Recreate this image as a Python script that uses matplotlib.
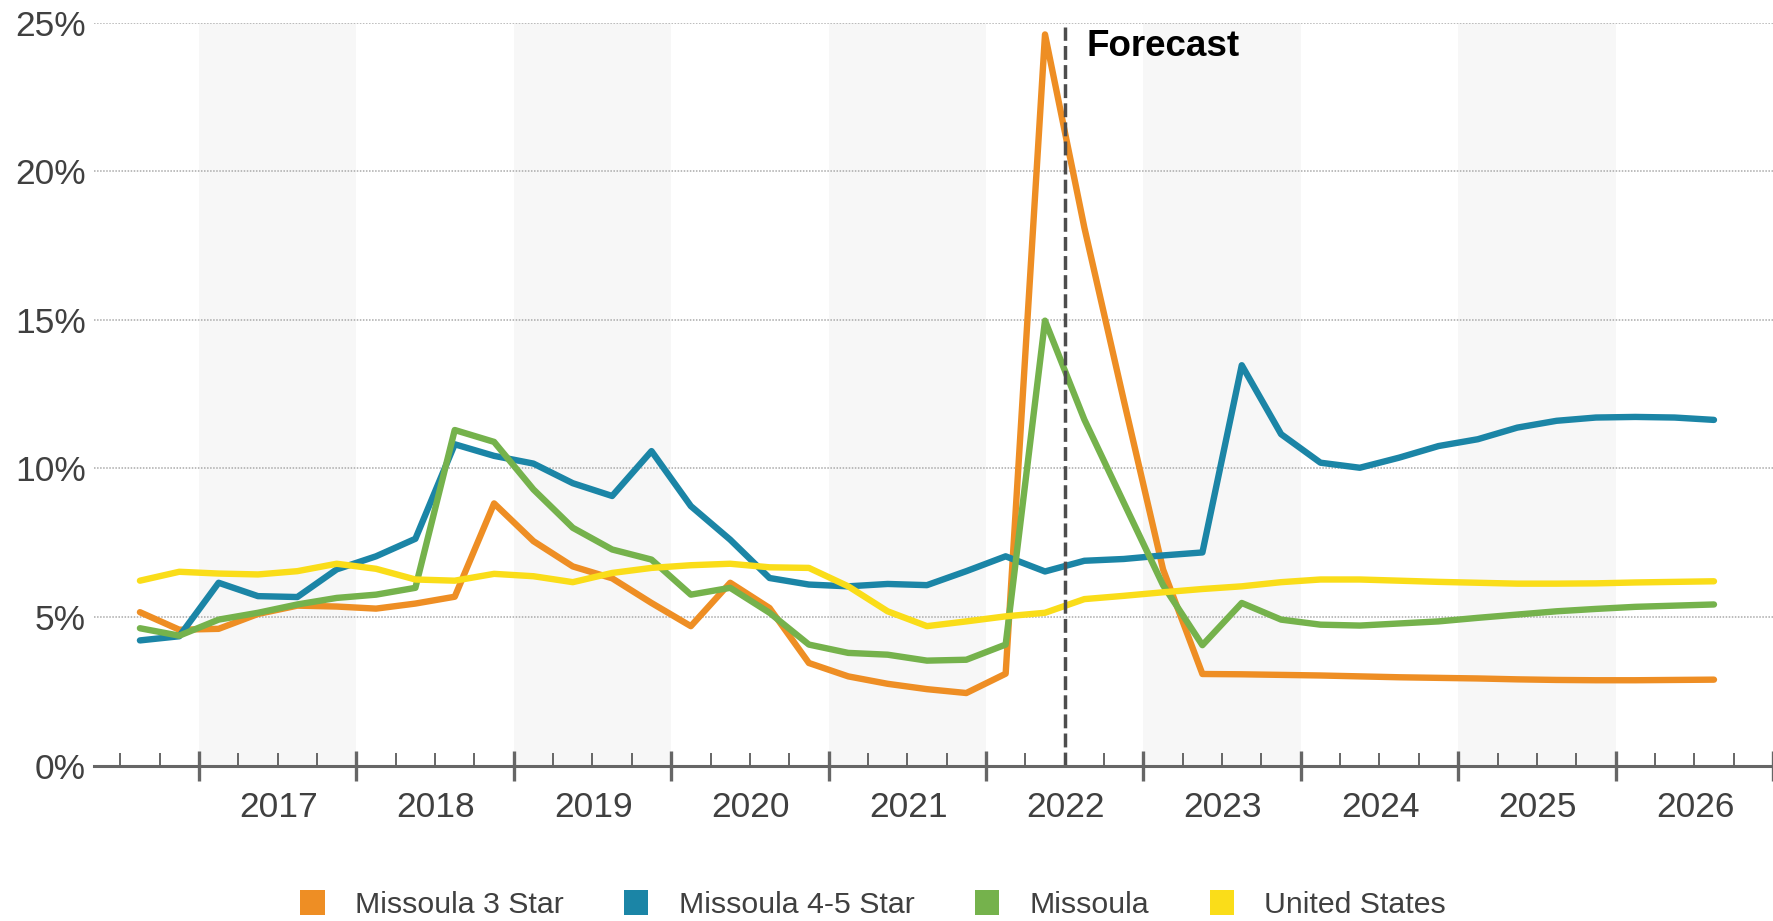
import numpy as np
import pandas as pd
import matplotlib
matplotlib.use('Agg')
import matplotlib.pyplot as plt
from matplotlib.patches import Patch
from matplotlib.ticker import MultipleLocator

plt.rcParams['font.family'] = ['Liberation Sans', 'DejaVu Sans']

# quarterly vacancy series, 2016 Q3 .. 2026 Q3
quarters = pd.period_range('2016Q3', '2026Q3', freq='Q')

missoula_3star = [5.16, 4.57, 4.60, 5.10, 5.38, 5.35, 5.28, 5.45, 5.68, 8.82,
                  7.55, 6.70, 6.30, 5.47, 4.69, 6.15, 5.30, 3.45, 3.00, 2.75,
                  2.57, 2.44, 3.09, 24.60, 18.10, 12.30, 6.60, 3.08, 3.07, 3.05,
                  3.03, 3.00, 2.97, 2.95, 2.93, 2.90, 2.88, 2.87, 2.87, 2.88,
                  2.89]
missoula_45star = [4.21, 4.35, 6.15, 5.70, 5.67, 6.60, 7.04, 7.63, 10.81, 10.42,
                   10.16, 9.50, 9.07, 10.58, 8.73, 7.60, 6.31, 6.09, 6.03, 6.11,
                   6.07, 6.54, 7.04, 6.53, 6.89, 6.95, 7.07, 7.17, 13.47, 11.15,
                   10.19, 10.02, 10.36, 10.75, 10.98, 11.37, 11.60, 11.71, 11.73, 11.71,
                   11.63]
missoula = [4.62, 4.37, 4.91, 5.14, 5.42, 5.64, 5.75, 5.98, 11.29, 10.89,
            9.29, 8.00, 7.27, 6.93, 5.75, 5.98, 5.14, 4.07, 3.79, 3.73,
            3.53, 3.56, 4.07, 14.97, 11.64, 8.85, 6.07, 4.05, 5.47, 4.91,
            4.74, 4.71, 4.78, 4.85, 4.97, 5.08, 5.19, 5.27, 5.34, 5.38,
            5.42]
united_states = [6.22, 6.52, 6.46, 6.43, 6.54, 6.79, 6.62, 6.26, 6.22, 6.45,
                 6.37, 6.17, 6.48, 6.65, 6.74, 6.79, 6.67, 6.65, 6.03, 5.19,
                 4.69, 4.85, 5.02, 5.14, 5.60, 5.71, 5.83, 5.94, 6.03, 6.17,
                 6.26, 6.26, 6.22, 6.18, 6.15, 6.12, 6.12, 6.13, 6.16, 6.18,
                 6.20]

series_names = ['Missoula 3 Star', 'Missoula 4-5 Star', 'Missoula', 'United States']
series_colors = ['#EE8E24', '#1B85A6', '#75B24C', '#FADD19']
years = list(range(2017, 2027))
forecast_start = 2022.5

# place each quarter at the middle of its slot on a year axis
x = np.array([p.year + (p.quarter - 0.5) / 4 for p in quarters])

fig = plt.figure(figsize=(17.73, 9.21), dpi=100)
ax = fig.add_axes([0.053, 0.1688, 0.947, 0.8067])

# alternating year bands
for yr in years[::2]:
    ax.axvspan(yr, yr + 1, color='#f7f7f7', lw=0, zorder=0)

for yv in [5, 10, 15, 20, 25]:
    ax.axhline(yv, color='#aaaaaa', lw=1.1, ls=(0, (1, 1)), zorder=1)

for vals, name, col in zip([missoula_3star, missoula_45star, missoula, united_states],
                           series_names, series_colors):
    ax.plot(x, vals, color=col, lw=4.6, label=name, zorder=3,
            solid_joinstyle='round', solid_capstyle='round')

ax.vlines(forecast_start, 0, 24.85, colors='#4d4d4d', lw=2.5,
          linestyles=(0, (4.0, 1.5)), zorder=4)
ax.text(forecast_start + 0.14, 24.2, 'Forecast', fontsize=26.5, fontweight='bold',
        color='black', va='center', ha='left', zorder=5)

ax.set_xlim(2016.333, 2026.893)
ax.set_ylim(0, 25)

ax.set_yticks([0, 5, 10, 15, 20, 25])
ax.set_yticklabels(['0%', '5%', '10%', '15%', '20%', '25%'])
ax.tick_params(axis='y', length=0, pad=6, labelsize=25.5, labelcolor='#404040')

ax.set_xticks(years + [years[-1] + 1])
ax.set_xticklabels([])
ax.xaxis.set_minor_locator(MultipleLocator(0.25))
ax.tick_params(axis='x', which='major', direction='inout', length=21, width=2.4,
               color='#666666')
ax.tick_params(axis='x', which='minor', direction='in', length=9.5, width=1.4,
               color='#666666')

for yr in years:
    ax.text(yr + 0.505, -0.056, str(yr), transform=ax.get_xaxis_transform(),
            ha='center', va='center', fontsize=25.5, color='#404040')

for side in ['left', 'top', 'right']:
    ax.spines[side].set_visible(False)
ax.spines['bottom'].set_color('#666666')
ax.spines['bottom'].set_linewidth(2.2)
ax.spines['bottom'].set_zorder(6)

handles = [Patch(facecolor=c, edgecolor='none', label=n)
           for n, c in zip(series_names, series_colors)]
fig.legend(handles=handles, loc='center', bbox_to_anchor=(0.4925, 0.018), ncol=4,
           frameon=False, fontsize=21.8, handlelength=0.8, handleheight=0.92,
           handletextpad=1.0, columnspacing=2.0, labelcolor='#404040')

fig.savefig('out.png', dpi=100, facecolor='white')
